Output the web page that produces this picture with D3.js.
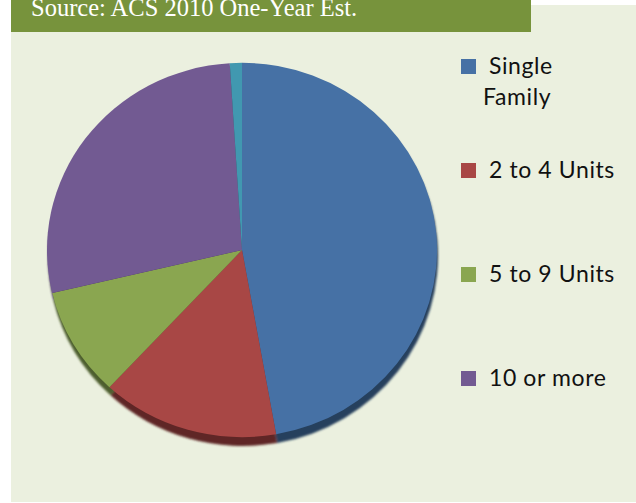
<!DOCTYPE html>
<html>
<head>
<meta charset="utf-8">
<script src="https://cdn.jsdelivr.net/npm/d3@7"></script>
<style>
    body { margin: 0; background: #fff; }
    svg { display: block; }
</style>
</head>
<body>
<div id="chart"></div>
<script>
// Housing units by structure type (share of total)
const categories = ['Single Family', '2 to 4 Units', '5 to 9 Units', '10 or more', 'Other'];
const shares = [47.2, 14.7, 9.4, 27.7, 1.0];
const colors = ['#4671a5', '#a84745', '#8aa650', '#725a92', '#4198b0'];
const legendLabels = [['Single', 'Family'], ['2 to 4 Units'], ['5 to 9 Units'], ['10 or more']];
const sourceText = 'Source: ACS 2010 One-Year Est.';

const width = 636, height = 503;

const svg = d3.select('#chart').append('svg')
    .attr('width', width)
    .attr('height', height);

// Panel background
svg.append('rect')
    .attr('x', 11).attr('y', 5)
    .attr('width', width - 11).attr('height', 497)
    .attr('fill', '#ebf0df');

// Source banner (text is cut at the top in the original)
svg.append('rect')
    .attr('x', 11).attr('y', 0)
    .attr('width', 520).attr('height', 32)
    .attr('fill', '#77933c');

svg.append('text')
    .attr('x', 31).attr('y', 16)
    .attr('fill', '#ffffff')
    .style('font-family', '"Liberation Serif", "Times New Roman", serif')
    .style('font-size', '24.5px')
    .text(sourceText);

// Pie (slightly oval, with a dark rim as in the original 3D look)
const data = categories.map((c, i) => ({ name: c, value: shares[i], color: colors[i] }));
const pie = d3.pie().sort(null).value(d => d.value);
const radius = 190;
const arc = d3.arc().innerRadius(0).outerRadius(radius);
const sx = 195 / radius;

const defs = svg.append('defs');
defs.append('filter').attr('id', 'blur')
    .append('feGaussianBlur').attr('stdDeviation', 1.2);

const rim = svg.append('g')
    .attr('transform', `translate(243,256) scale(${sx},1)`)
    .attr('filter', 'url(#blur)');
rim.selectAll('path')
    .data(pie(data))
    .enter()
    .append('path')
    .attr('d', arc)
    .attr('fill', d => d3.color(d.data.color).darker(1.6));

const g = svg.append('g')
    .attr('transform', `translate(242,250) scale(${sx},0.985)`);
g.selectAll('path')
    .data(pie(data))
    .enter()
    .append('path')
    .attr('d', arc)
    .attr('fill', d => d.data.color);

// Legend
const legend = svg.append('g').attr('transform', 'translate(461,59)');
const item = legend.selectAll('g')
    .data(legendLabels)
    .enter()
    .append('g')
    .attr('transform', (d, i) => `translate(0, ${i * 104})`);

item.append('rect')
    .attr('width', 15).attr('height', 15)
    .attr('fill', (d, i) => colors[i]);

item.each(function(lines) {
    const t = d3.select(this).append('text')
        .attr('fill', '#111')
        .style('font-family', 'Lato, "Open Sans", sans-serif')
        .style('font-size', '23px')
        .style('letter-spacing', '0.6px');
    lines.forEach((line, j) => {
        t.append('tspan')
            .attr('x', j === 0 ? 28 : 22)
            .attr('y', 15 + j * 31)
            .text(line);
    });
});
</script>
</body>
</html>
